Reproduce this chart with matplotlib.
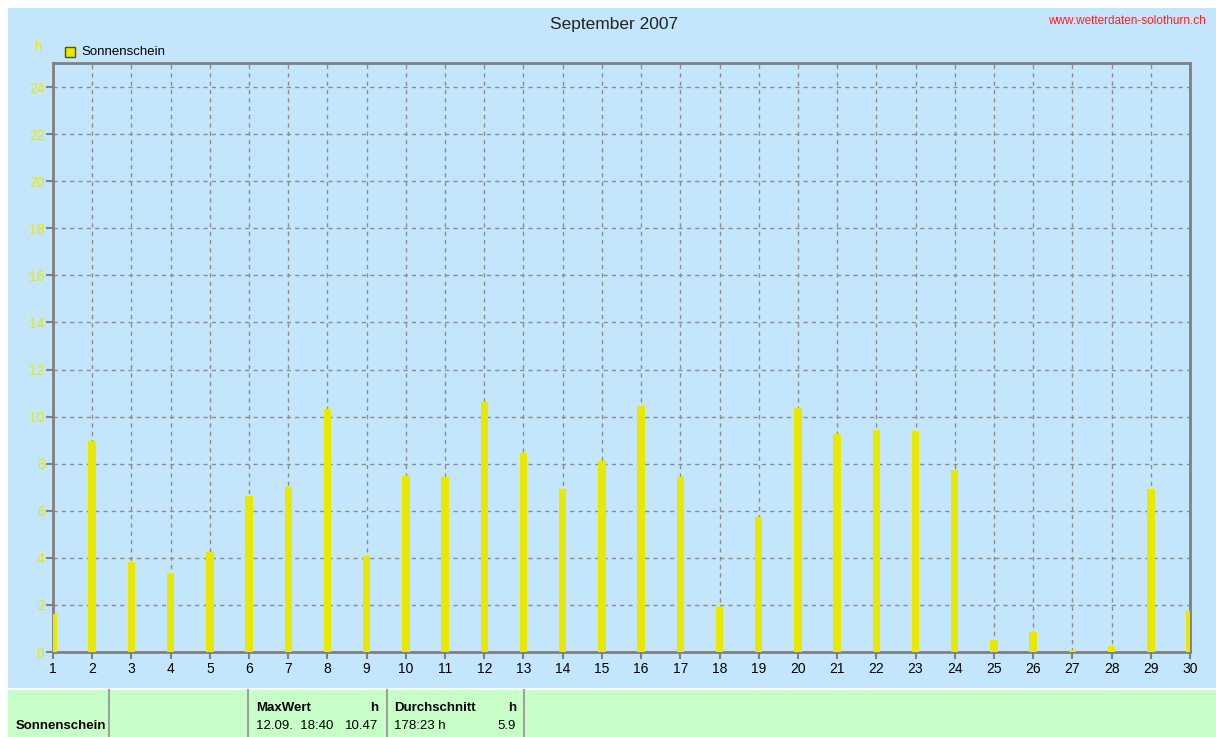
"""Sonnenschein September 2007 (wetterdaten-solothurn.ch style daily bar chart)."""
import matplotlib
matplotlib.use("Agg")
import matplotlib.pyplot as plt
from matplotlib.patches import Rectangle

OUT = "out.png"

DAYS = list(range(1, 31))
SUN_H = [1.61, 8.95, 3.84, 3.35, 4.24, 6.61, 7.03, 10.33, 4.06, 7.48,
         7.45, 10.64, 8.46, 6.94, 8.10, 10.47, 7.43, 1.90, 5.73, 10.36,
         9.26, 9.45, 9.37, 7.74, 0.50, 0.86, 0.10, 0.25, 6.94, 1.74]
YTICKS = list(range(0, 25, 2))

TITLE = "September 2007"
SITE = "www.wetterdaten-solothurn.ch"
SERIES = "Sonnenschein"
TABLE_MAX = ("MaxWert", "h", "12.09.  18:40", "10.47")
TABLE_AVG = ("Durchschnitt", "h", "178:23 h", "5.9")

BLUE = "#c4e6fc"
GREEN = "#c8ffc8"
YEL = "#e8e800"
GRID = "#8c8c8c"
W, H = 1216, 737


def fx(px):
    return px / W


def fy(py):
    return 1 - py / H


def main():
    plt.rcParams["font.family"] = ["Liberation Sans", "DejaVu Sans"]
    fig = plt.figure(figsize=(W / 100, H / 100), dpi=100, facecolor="white")

    # background panels
    fig.patches.append(Rectangle((fx(8), fy(688)), fx(W - 8), 680 / H,
                                 transform=fig.transFigure, facecolor=BLUE, edgecolor="none", zorder=-5))
    fig.patches.append(Rectangle((fx(8), 0), fx(W - 8), 47 / H,
                                 transform=fig.transFigure, facecolor=GREEN, edgecolor="none", zorder=-5))

    ax = fig.add_axes([fx(53), fy(652), fx(1190 - 53), (652 - 63) / H])
    ax.set_zorder(2)
    ax.set_facecolor(BLUE)
    ax.bar(DAYS, SUN_H, width=0.19, color=YEL, edgecolor="none", zorder=3)
    ax.set_xlim(1, 30)
    ax.set_ylim(0, 25.02)
    ax.set_xticks(DAYS)
    ax.set_yticks(YTICKS)
    ax.grid(True, color=GRID, linestyle=(0, (3, 3)), linewidth=1)
    ax.set_axisbelow(True)
    for sp in ax.spines.values():
        sp.set_color("#808080")
        sp.set_linewidth(2)
    ax.tick_params(axis="x", colors="#808080", labelcolor="black", length=5, width=1.5, labelsize=10, pad=2)
    ax.tick_params(axis="y", colors="#808080", labelcolor=YEL, length=5, width=1.5, labelsize=10, pad=1)

    fig.text(0.505, fy(25), TITLE, ha="center", va="center", fontsize=12.5, color="#222222")
    fig.text(fx(1206), fy(21), SITE, ha="right", va="center", fontsize=8.5, color="#ff2020")
    fig.text(fx(38), fy(47), "h", ha="center", va="center", fontsize=9.5, color=YEL)

    # legend
    fig.patches.append(Rectangle((fx(65), fy(57)), 10 / W, 10 / H, transform=fig.transFigure,
                                 facecolor=YEL, edgecolor="#555500", linewidth=1, zorder=5))
    fig.text(fx(81), fy(52), SERIES, ha="left", va="center", fontsize=9.5, color="black")

    # summary table
    for xs in (109, 248, 387, 524):
        fig.add_artist(plt.Line2D([fx(xs), fx(xs)], [0, fy(690)], transform=fig.transFigure,
                                  color="#a0a0a0", linewidth=1.5))
    fig.text(fx(16), fy(726), SERIES, ha="left", va="center", fontsize=9.5, fontweight="bold")
    for x0, x1, (head, unit, when, val) in ((256, 378, TABLE_MAX), (394, 516, TABLE_AVG)):
        fig.text(fx(x0), fy(708), head, ha="left", va="center", fontsize=9.5, fontweight="bold")
        fig.text(fx(x1), fy(708), unit, ha="right", va="center", fontsize=9.5, fontweight="bold")
        fig.text(fx(x0), fy(726), when, ha="left", va="center", fontsize=9.5)
        fig.text(fx(x1), fy(726), val, ha="right", va="center", fontsize=9.5)

    fig.savefig(OUT, dpi=100, facecolor="white")


if __name__ == "__main__":
    main()
